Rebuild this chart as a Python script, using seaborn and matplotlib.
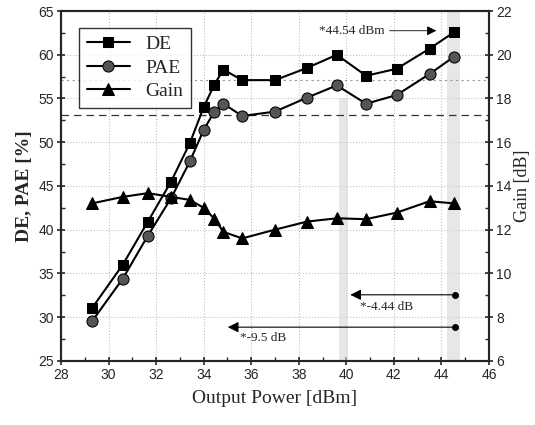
import matplotlib
matplotlib.use("Agg")
import matplotlib.pyplot as plt
import seaborn as sns
import pandas as pd
from matplotlib.ticker import MultipleLocator

# data
power = [29.3, 30.6, 31.65, 32.63, 33.42, 34.0, 34.45, 34.83, 35.62, 37.0,
         38.35, 39.6, 40.83, 42.12, 43.5, 44.54]
de = [31.0, 36.0, 40.9, 45.5, 49.9, 54.0, 56.6, 58.3, 57.1, 57.1,
      58.5, 60.0, 57.6, 58.4, 60.7, 62.6]
pae = [29.5, 34.4, 39.3, 43.6, 47.8, 51.4, 53.5, 54.4, 53.0, 53.5,
       55.1, 56.5, 54.4, 55.4, 57.8, 59.8]
gain = [13.2, 13.5, 13.67, 13.5, 13.36, 13.0, 12.5, 11.9, 11.6, 12.0,
        12.37, 12.52, 12.48, 12.78, 13.3, 13.2]

df = pd.DataFrame({"power": power, "DE": de, "PAE": pae, "Gain": gain})

sns.set_style("ticks")
plt.rcParams['font.family'] = ['Liberation Sans', 'DejaVu Sans']
serif = ['Liberation Serif', 'DejaVu Serif']

fig = plt.figure(figsize=(5.35, 4.25), dpi=100)
ax = fig.add_axes([0.114, 0.151, 0.800, 0.823])
ax2 = ax.twinx()

# faint scan-like background
ax.grid(True, which='major', color='#c0c0c0', linestyle=':', linewidth=0.8)
ax.axvspan(39.7, 40.05, ymin=0.0, ymax=0.75, color='#d8d8d8', alpha=0.6, lw=0)
ax.axvspan(44.25, 44.8, ymin=0.0, ymax=1.0, color='#d8d8d8', alpha=0.6, lw=0)
ax.axhline(53.1, color='#333333', linestyle=(0, (6, 4)), linewidth=0.9)
ax.axhline(57.1, color='#999999', linestyle=(0, (2, 3)), linewidth=0.8)

sns.lineplot(data=df, x="power", y="DE", ax=ax, color='black', marker='s',
             markersize=7, markeredgecolor='black', linewidth=1.5, label='DE',
             legend=False)
sns.lineplot(data=df, x="power", y="PAE", ax=ax, color='black', marker='o',
             markersize=8, markerfacecolor='#555555', markeredgecolor='black',
             linewidth=1.5, label='PAE', legend=False)
sns.lineplot(data=df, x="power", y="Gain", ax=ax2, color='black', marker='^',
             markersize=9, markeredgecolor='black', linewidth=1.5, label='Gain',
             legend=False)

ax.set_xlim(28, 46)
ax.set_ylim(25, 65)
ax2.set_ylim(6, 22)
ax.xaxis.set_major_locator(MultipleLocator(2))
ax.xaxis.set_minor_locator(MultipleLocator(1))
ax.yaxis.set_major_locator(MultipleLocator(5))
ax.yaxis.set_minor_locator(MultipleLocator(2.5))
ax2.yaxis.set_major_locator(MultipleLocator(2))
ax2.yaxis.set_minor_locator(MultipleLocator(1))

for a in (ax, ax2):
    a.tick_params(which='major', direction='inout', length=6, width=1.2,
                  labelsize=10, pad=2)
    a.tick_params(which='minor', direction='in', length=3, width=1)
    for s in a.spines.values():
        s.set_linewidth(1.5)

ax.set_xlabel("Output Power [dBm]", fontsize=14, family=serif, labelpad=6)
ax.set_ylabel("DE, PAE [%]", fontsize=14, family=serif, fontweight='bold',
              labelpad=4)
ax2.set_ylabel("Gain [dB]", fontsize=13, family=serif, labelpad=2)

# annotations
ax.annotate("", xy=(43.9, 62.75), xytext=(41.7, 62.75),
            arrowprops=dict(arrowstyle='-|>', color='black', lw=0.6,
                            mutation_scale=14))
ax.text(41.6, 62.75, "*44.54 dBm", family=serif, fontsize=9.5,
        ha='right', va='center')
ax.annotate("", xy=(40.05, 32.55), xytext=(44.56, 32.55),
            arrowprops=dict(arrowstyle='-|>', color='black', lw=0.8,
                            mutation_scale=16))
ax.plot([44.56], [32.55], 'o', color='black', markersize=4)
ax.text(41.7, 31.2, "*-4.44 dB", family=serif, fontsize=9.5,
        ha='center', va='center')
ax.annotate("", xy=(34.9, 28.85), xytext=(44.56, 28.85),
            arrowprops=dict(arrowstyle='-|>', color='black', lw=0.8,
                            mutation_scale=16))
ax.plot([44.56], [28.85], 'o', color='black', markersize=4)
ax.text(36.5, 27.6, "*-9.5 dB", family=serif, fontsize=9.5,
        ha='center', va='center')

h1, l1 = ax.get_legend_handles_labels()
h2, l2 = ax2.get_legend_handles_labels()
leg = ax.legend(h1 + h2, l1 + l2, loc='upper left', bbox_to_anchor=(0.02, 0.98),
                frameon=True, fancybox=False, edgecolor='black',
                prop={'family': serif, 'size': 14}, handlelength=2.2,
                borderpad=0.4, labelspacing=0.3)
leg.get_frame().set_linewidth(1.0)

fig.savefig("out.png", dpi=100)
